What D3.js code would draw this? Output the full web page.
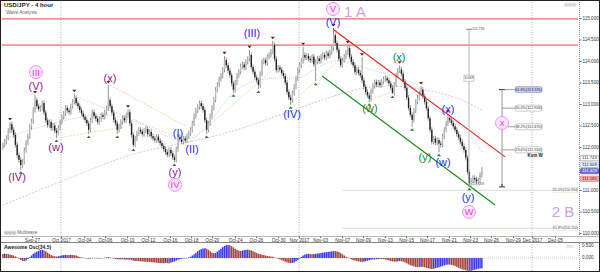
<!DOCTYPE html>
<html><head><meta charset="utf-8">
<script src="https://cdn.jsdelivr.net/npm/d3@7"></script>
<style>body{margin:0;background:#fff}svg{display:block;font-family:"Liberation Sans",Arial,sans-serif}</style>
</head><body><svg id="c" width="600" height="272"></svg>
<script>
// ---------- data (USD/JPY 4h closes) ----------
const closes = [
112.05,112.12,112.21,112.38,112.53,112.40,112.28,112.05,111.81,111.70,
111.58,111.66,111.93,112.10,112.25,112.47,112.60,112.86,113.09,112.95,
112.88,112.91,113.02,112.80,112.62,112.51,112.58,112.44,112.50,112.38,
112.33,112.45,112.58,112.70,112.78,112.91,112.85,112.81,112.95,113.05,
113.14,113.02,112.95,112.86,112.78,112.70,112.63,112.55,112.40,112.62,
112.81,112.72,112.66,112.58,112.65,112.74,112.70,112.81,112.90,113.09,
112.95,112.80,112.63,112.55,112.40,112.48,112.58,112.67,112.62,112.74,
112.81,112.55,112.28,112.05,112.20,112.32,112.40,112.36,112.30,112.38,
112.42,112.30,112.35,112.25,112.20,112.16,112.24,112.15,112.09,112.02,
111.95,111.88,111.82,111.93,111.85,111.76,111.70,111.95,112.23,112.18,
112.12,112.20,112.15,112.25,112.32,112.40,112.55,112.72,112.85,112.93,
113.02,112.95,112.86,112.62,112.40,112.55,112.72,112.91,113.10,113.33,
113.45,113.58,113.66,113.80,114.02,113.90,113.78,113.67,113.48,113.33,
113.50,113.66,113.75,113.88,113.92,113.85,113.98,114.05,114.14,113.86,
113.75,113.62,113.55,113.44,113.70,113.98,114.02,113.95,114.10,114.14,
114.22,114.37,114.05,113.79,113.85,113.80,113.72,113.65,113.50,113.28,
113.15,113.09,113.25,113.40,113.60,113.79,113.90,114.00,114.14,114.08,
114.12,114.05,114.02,114.10,113.92,113.98,114.06,114.00,114.10,114.14,
114.08,114.18,114.12,114.21,114.30,114.60,114.42,114.26,114.05,113.91,
114.02,114.10,114.20,114.30,114.10,113.98,113.90,113.74,113.80,113.72,
113.67,113.55,113.40,113.28,113.20,113.12,113.30,113.42,113.51,113.45,
113.50,113.44,113.52,113.58,113.60,113.55,113.48,113.38,113.26,113.45,
113.67,113.78,113.80,113.70,113.52,113.37,113.15,112.91,112.75,112.63,
112.85,113.05,113.15,113.25,113.33,113.18,113.05,112.90,112.67,112.40,
112.12,112.20,112.10,112.16,112.08,112.05,112.25,112.40,112.55,112.67,
112.62,112.56,112.48,112.40,112.30,112.22,112.12,112.02,111.93,111.75,
111.42,111.16,111.22,111.28,111.25,111.20,111.23,111.35,111.47];
const firstOpen = 112.00;
const highPivotIdx = [4,18,40,59,70,124,138,151,168,185,193,201,222,234,249];
const highPivotVal = [112.58,113.21,113.24,113.44,112.88,114.12,114.26,114.47,114.33,114.77,114.37,114.09,113.90,113.42,112.76];
const lowPivotIdx = [10,30,48,64,73,96,114,129,143,161,175,205,218,229,244,261];
const lowPivotVal = [111.47,112.21,112.30,112.30,112.00,111.65,112.30,113.26,113.35,112.98,113.53,113.05,113.23,112.47,111.88,111.09];

const aoValues = [
0.16,0.18,0.17,0.15,0.14,0.12,0.10,0.06,0.02,-0.03,
-0.08,-0.12,-0.13,-0.10,-0.04,0.03,0.10,0.17,0.22,0.26,
0.29,0.32,0.33,0.31,0.27,0.22,0.17,0.12,0.09,0.07,
0.06,0.07,0.09,0.11,0.12,0.13,0.12,0.12,0.13,0.12,
0.11,0.10,0.07,0.04,0.02,0.01,0.00,-0.02,-0.03,-0.02,
-0.01,0.00,-0.01,-0.02,-0.02,-0.01,0.00,0.01,0.02,0.03,
0.02,0.00,-0.02,-0.04,-0.05,-0.06,-0.05,-0.05,-0.06,-0.07,
-0.06,-0.07,-0.09,-0.11,-0.12,-0.12,-0.13,-0.14,-0.14,-0.15,
-0.15,-0.16,-0.16,-0.17,-0.18,-0.18,-0.19,-0.20,-0.21,-0.21,
-0.22,-0.20,-0.21,-0.22,-0.19,-0.16,-0.14,-0.10,-0.07,-0.05,
-0.03,-0.02,-0.01,0.00,0.02,0.05,0.10,0.15,0.21,0.27,
0.32,0.36,0.39,0.40,0.38,0.33,0.27,0.22,0.20,0.21,
0.26,0.32,0.38,0.44,0.49,0.52,0.53,0.52,0.48,0.43,
0.37,0.33,0.30,0.29,0.30,0.32,0.33,0.34,0.33,0.31,
0.28,0.24,0.20,0.17,0.15,0.14,0.12,0.10,0.08,0.07,
0.06,0.05,0.02,0.00,-0.03,-0.06,-0.09,-0.12,-0.15,-0.18,
-0.20,-0.21,-0.20,-0.18,-0.13,-0.08,-0.02,0.04,0.10,0.14,
0.16,0.17,0.16,0.15,0.16,0.17,0.18,0.19,0.21,0.22,
0.23,0.24,0.25,0.26,0.27,0.28,0.28,0.27,0.24,0.20,
0.15,0.10,0.05,0.02,-0.02,-0.05,-0.08,-0.10,-0.12,-0.14,
-0.15,-0.16,-0.15,-0.13,-0.11,-0.09,-0.07,-0.06,-0.06,-0.05,
-0.05,-0.04,-0.04,-0.05,-0.06,-0.08,-0.10,-0.12,-0.14,-0.15,
-0.15,-0.14,-0.12,-0.13,-0.15,-0.18,-0.22,-0.26,-0.29,-0.32,
-0.34,-0.36,-0.37,-0.37,-0.36,-0.36,-0.38,-0.40,-0.42,-0.44,
-0.45,-0.44,-0.42,-0.40,-0.38,-0.35,-0.33,-0.30,-0.28,-0.27,
-0.27,-0.28,-0.30,-0.33,-0.36,-0.40,-0.43,-0.46,-0.48,-0.50,
-0.52,-0.53,-0.52,-0.50,-0.48,-0.46,-0.44,-0.43,-0.42];

const tickLabels = ["Sep-27","Oct 2017","Oct-04","Oct-06","Oct-10","Oct-12","Oct-16","Oct-18","Oct-20","Oct-24","Oct-26","Oct-30","Nov 2017","Nov-03","Nov-07","Nov-09","Nov-13","Nov-15","Nov-17","Nov-21","Nov-23","Nov-26","Nov-29","Dec 2017","Dec-05"];
const tickIdx = [16.8,33,46,57.6,70,81.7,94,105.8,117.5,130.4,142.1,154.5,166.2,178,190.3,202,214.3,226.1,237.8,250.1,261.9,273.6,285.9,296.6,309.4];
const monthIdx = [33,166.2,296.6];
const priceTicks = [110,110.5,111,112,112.5,113,113.5,114,114.5,115];

const maSlow = [[0,110.65],[20.8,111.00],[44.8,111.40],[72.8,111.88],[106.4,112.12],[132.7,112.40],[170.2,112.98],[202.6,113.44],[222.2,113.42],[244.6,113.28],[257.5,113.09],[268.1,112.86]];
const maFast = [[0,112.16],[9.6,112.33],[20.8,112.47],[41.5,112.70],[59.9,112.79],[71.1,112.63],[82.3,112.47],[97.4,112.09],[107.5,112.23],[114.2,112.47],[121.5,112.91],[128.8,113.26],[138.3,113.56],[156.7,113.63],[166.3,113.56],[175.8,113.86],[188.6,114.09],[199.8,113.86],[212.7,113.72],[222.2,113.63],[230.6,113.37],[237.3,113.02],[244.6,112.81],[254.1,112.56],[261.4,112.28],[268.1,111.88]];
const oliveLines = [[[33.6,112.23],[68.3,112.47]],[[101.9,112.02],[152.3,113.84]],[[160.7,113.0],[187,113.98]],[[204.5,113.07],[222.7,113.37]]];
const orangeLines = [[[59.9,113.44],[103,112.47]],[[41.5,113.16],[97.4,112.23]]];
const resistance = [114.98,114.37];
const redTrend = [[184.7,114.74],[281.0,111.77]];
const greenTrend = [[178.6,113.65],[275.4,110.65]];
const retraceLevels = [110.994,110.110];
const retraceLabels = ["50.0%(110.994)","61.8%(110.110)"];
const retraceStart = 190;
const fibLevels = [113.335,112.903,112.470,111.934];
const fibLabels = ["61.8%(113.335)","50.0%(112.903)","38.2%(112.470)","23.6%(111.934)"];
const fibBottom = 111.072, fibIdx = 279.3;
const measure = {idx:260.8, top:114.738, bottom:111.069, text:"3.669"};
const priceBoxes = [["111.743",111.743,"#fff","#777","#222"],["111.509",111.585,"#dff3f8","#88b","#224"],["111.429",111.44,"#6f6fe0","#44a","#fff"],["111.184",111.26,"#f3b0b0","#c66","#611"]];

// wave labels: [text, idx, price, color]
const waveLabels = [
["(V)",18.5,113.42,"#8b1a8b"],["(w)",29.7,112.00,"#8b1a8b"],["(x)",59.9,113.60,"#8b1a8b"],["(IV)",7.9,111.30,"#8b1a8b"],["(y)",96.3,111.42,"#8b1a8b"],
["(III)",139.4,114.65,"#1f2bff"],["(I)",98,112.33,"#1f2bff"],["(II)",105.8,111.95,"#1f2bff"],["(IV)",161.8,112.77,"#1f2bff"],["(V)",184.7,114.91,"#1f2bff"],["(x)",249,112.88,"#1f2bff"],["(w)",246.3,111.65,"#1f2bff"],["(y)",260.3,110.84,"#1f2bff"],
["(x)",221.7,114.09,"#1a8a1a"],["(w)",205.4,112.91,"#1a8a1a"],["(y)",236.2,111.77,"#1a8a1a"]];
const circleLabels = [["III",18.5,113.74],["IV",96.3,111.12],["V",184.7,115.21],["W",260.8,110.49],["x",279.3,112.56]];
const bigLabels = [["1 A",197,115.14],["2 B",313.4,110.49]];

// ---------- scales ----------
const svg = d3.select("#c");
const x = d3.scaleLinear().domain([0,322.3]).range([2,578]);
const X = i => x(i+0.5);
const y = d3.scaleLinear().domain([110,115]).range([233,18]);
const yAo = d3.scaleLinear().domain([-0.55,0.55]).range([271.5,244.5]);

svg.append("rect").attr("width",600).attr("height",272).attr("fill","#fff");
svg.append("defs").append("clipPath").attr("id","mp").append("rect").attr("x",2).attr("y",2).attr("width",576).attr("height",234);

// month separators
svg.append("g").selectAll("line").data(monthIdx).join("line")
 .attr("x1",d=>x(d)).attr("x2",d=>x(d)).attr("y1",2).attr("y2",271)
 .attr("stroke","#9a9a9a").attr("stroke-width",0.8).attr("stroke-dasharray","1,1.5");

const main = svg.append("g").attr("clip-path","url(#mp)");
const line = d3.line().x(d=>X(d[0])).y(d=>y(d[1])).curve(d3.curveBasis);

main.append("path").attr("d",line(maSlow)).attr("fill","none").attr("stroke","#e2a8e2").attr("stroke-width",0.8).attr("stroke-dasharray","2,1.5");
main.append("path").attr("d",line(maFast)).attr("fill","none").attr("stroke","#a9c8f2").attr("stroke-width",0.8).attr("stroke-dasharray","1,1");
main.selectAll(".ol").data(oliveLines).join("path").attr("d",d=>d3.line().x(p=>X(p[0])).y(p=>y(p[1]))(d))
 .attr("fill","none").attr("stroke","#d8d8a0").attr("stroke-width",0.8).attr("stroke-dasharray","2,1.5");
main.selectAll(".or").data(orangeLines).join("path").attr("d",d=>d3.line().x(p=>X(p[0])).y(p=>y(p[1]))(d))
 .attr("fill","none").attr("stroke","#f6c48e").attr("stroke-width",0.8).attr("stroke-dasharray","2,1.5");

// resistance lines
main.selectAll(".res").data(resistance).join("line").attr("x1",2).attr("x2",578)
 .attr("y1",d=>y(d)).attr("y2",d=>y(d)).attr("stroke","#ee6a6a").attr("stroke-width",1.3);
// retracement lines
main.selectAll(".ret").data(retraceLevels).join("line").attr("x1",X(retraceStart)).attr("x2",578)
 .attr("y1",d=>y(d)).attr("y2",d=>y(d)).attr("stroke","#b9e8b0").attr("stroke-width",0.8);

// candles
const opens = closes.map((c,i)=> i ? closes[i-1] : firstOpen);
const hiMap = new Map(highPivotIdx.map((d,k)=>[d,highPivotVal[k]]));
const loMap = new Map(lowPivotIdx.map((d,k)=>[d,lowPivotVal[k]]));
const candles = closes.map((c,i)=>{const o=opens[i];
 return {i,o,c,h:hiMap.has(i)?hiMap.get(i):Math.max(o,c)+0.06,l:loMap.has(i)?loMap.get(i):Math.min(o,c)-0.06};});
const cg = main.append("g");
cg.selectAll("line").data(candles).join("line").attr("x1",d=>X(d.i)).attr("x2",d=>X(d.i))
 .attr("y1",d=>y(d.h)).attr("y2",d=>y(d.l)).attr("stroke","#7a7a7a").attr("stroke-width",0.8);
cg.selectAll("rect").data(candles).join("rect").attr("x",d=>X(d.i)-0.7).attr("width",1.4)
 .attr("y",d=>y(Math.max(d.o,d.c))).attr("height",d=>Math.max(0.8,Math.abs(y(d.o)-y(d.c))))
 .attr("fill",d=>d.c<d.o?"#222":"#bdbdbd");

// pivot markers
main.selectAll(".hm").data(highPivotIdx).join("path").attr("d",(d,k)=>{const cx=X(d),cy=y(highPivotVal[k])-1.5;return `M${cx-2},${cy-2.5}L${cx+2},${cy-2.5}L${cx},${cy}Z`;}).attr("fill","#7a1212");
main.selectAll(".lm").data(lowPivotIdx).join("path").attr("d",(d,k)=>{const cx=X(d),cy=y(lowPivotVal[k])+1.5;return `M${cx-2},${cy+2.5}L${cx+2},${cy+2.5}L${cx},${cy}Z`;}).attr("fill","#2d7d2d");

// trend lines
const sl = d3.line().x(p=>X(p[0])).y(p=>y(p[1]));
main.append("path").attr("d",sl(redTrend)).attr("stroke","#f02020").attr("stroke-width",1.2).attr("fill","none");
main.append("path").attr("d",sl(greenTrend)).attr("stroke","#1f8a1f").attr("stroke-width",1.2).attr("fill","none");

// measurement tool
const mx = X(measure.idx);
main.append("line").attr("x1",mx).attr("x2",mx).attr("y1",y(measure.top)).attr("y2",y(measure.bottom)).attr("stroke","#b0b0b0").attr("stroke-width",0.9);
main.append("line").attr("x1",mx-3).attr("x2",mx+3).attr("y1",y(measure.top)).attr("y2",y(measure.top)).attr("stroke","#888");
main.append("text").attr("x",mx+3).attr("y",y(measure.top)).attr("font-size",3.5).attr("fill","#555").attr("dominant-baseline","middle").text(measure.top.toFixed(3));
main.append("text").attr("x",mx+3).attr("y",y(measure.bottom)-3).attr("font-size",3.5).attr("fill","#555").attr("dominant-baseline","middle").text(measure.bottom.toFixed(3));
const mmid = y((measure.top+measure.bottom)/2)-30;
main.append("rect").attr("x",mx-5).attr("y",mmid-3).attr("width",10).attr("height",6).attr("fill","#fff").attr("stroke","#999").attr("stroke-width",0.5);
main.append("text").attr("x",mx).attr("y",mmid).attr("font-size",3.5).attr("fill","#444").attr("text-anchor","middle").attr("dominant-baseline","middle").text(measure.text);

// fib tool
const fx = X(fibIdx);
main.append("line").attr("x1",fx).attr("x2",fx).attr("y1",y(fibLevels[0])).attr("y2",y(fibBottom)).attr("stroke","#8a8a8a").attr("stroke-width",0.9);
[fibLevels[0],fibBottom].forEach(v=>main.append("line").attr("x1",fx-3).attr("x2",fx+3).attr("y1",y(v)).attr("y2",y(v)).attr("stroke","#333").attr("stroke-width",1));
main.append("line").attr("x1",fx).attr("x2",fx).attr("y1",y(fibBottom)-3).attr("y2",y(fibBottom)).attr("stroke","#333");
fibLevels.forEach((v,k)=>{
 main.append("line").attr("x1",fx).attr("x2",fx+13).attr("y1",y(v)).attr("y2",y(v)).attr("stroke","#777").attr("stroke-width",0.7);
 main.append("rect").attr("x",fx+13).attr("y",y(v)-3).attr("width",27).attr("height",6).attr("rx",2)
  .attr("fill",k===0?"#c6ccf4":"#fff").attr("stroke",k===0?"#7784d0":"#999").attr("stroke-width",0.5);
 main.append("text").attr("x",fx+26.5).attr("y",y(v)+0.2).attr("font-size",3.8).attr("fill","#333").attr("text-anchor","middle").attr("dominant-baseline","middle").text(fibLabels[k]);
});
main.append("text").attr("x",fx+33).attr("y",y(fibLevels[3])+6).attr("font-size",4.5).attr("font-weight","bold").attr("fill","#222").attr("text-anchor","middle").attr("dominant-baseline","middle").text("Kvm W");

// retrace labels
retraceLevels.forEach((v,k)=>{
 main.append("rect").attr("x",553).attr("y",y(v)-3).attr("width",25).attr("height",5.5).attr("fill","#fff").attr("stroke","#cce6c6").attr("stroke-width",0.5);
 main.append("text").attr("x",565.5).attr("y",y(v)).attr("font-size",3.6).attr("fill","#444").attr("text-anchor","middle").attr("dominant-baseline","middle").text(retraceLabels[k]);
});

// wave labels
main.selectAll(".wl").data(waveLabels).join("text").attr("x",d=>X(d[1])).attr("y",d=>y(d[2]))
 .attr("text-anchor","middle").attr("dominant-baseline","central").attr("font-size",11).attr("fill",d=>d[3]).text(d=>d[0]);
const cl = main.selectAll(".cl").data(circleLabels).join("g").attr("transform",d=>`translate(${X(d[1])},${y(d[2])})`);
cl.append("circle").attr("r",6.5).attr("fill","#fde8fd").attr("stroke","#f77ff7").attr("stroke-width",0.9);
cl.append("text").attr("text-anchor","middle").attr("dominant-baseline","central").attr("font-size",9.5).attr("fill","#ee33ee").text(d=>d[0]);
main.selectAll(".bl").data(bigLabels).join("text").attr("x",d=>X(d[1])).attr("y",d=>y(d[2]))
 .attr("text-anchor","middle").attr("dominant-baseline","central").attr("font-size",15).attr("fill","#c9a3e6").text(d=>d[0]);

// title
svg.append("text").attr("x",4).attr("y",7).attr("font-size",6).attr("font-weight","bold").attr("fill","#222").text("USD/JPY - 4 hour");
svg.append("text").attr("x",6).attr("y",14).attr("font-size",4.8).attr("fill","#666").text("Wave Analysis");
svg.append("text").attr("x",4).attr("y",233.5).attr("font-size",4.5).attr("fill","#666").text("◎◎◎ Multiwave");
svg.append("text").attr("x",564).attr("y",6).attr("font-size",5).attr("fill","#999").text("◎◎◎");

// right price axis
svg.append("line").attr("x1",579.5).attr("x2",579.5).attr("y1",2).attr("y2",236).attr("stroke","#999").attr("stroke-dasharray","1,1");
const ya = svg.append("g").attr("transform","translate(579.5,0)").call(d3.axisRight(y).tickValues(priceTicks).tickFormat(d3.format(".3f")).tickSize(2).tickPadding(1));
ya.select(".domain").remove();
ya.selectAll("text").attr("font-size",4.6).attr("fill","#333").attr("font-family","Liberation Sans, Arial");
ya.selectAll("line").attr("stroke","#666");
priceBoxes.forEach(b=>{
 svg.append("rect").attr("x",580).attr("y",y(b[1])-2.7).attr("width",19).attr("height",5.4).attr("rx",1.5).attr("fill",b[2]).attr("stroke",b[3]).attr("stroke-width",0.5);
 svg.append("text").attr("x",589.5).attr("y",y(b[1])+0.2).attr("font-size",4.2).attr("fill",b[4]).attr("text-anchor","middle").attr("dominant-baseline","middle").text(b[0]);
});

// x axis
svg.append("line").attr("x1",1).attr("x2",599).attr("y1",236.5).attr("y2",236.5).attr("stroke","#888").attr("stroke-width",0.6);
const xa = svg.append("g").attr("transform","translate(0,236.5)").call(d3.axisBottom(x).tickValues(tickIdx).tickFormat((d,k)=>tickLabels[k]).tickSize(1.5).tickPadding(0.5));
xa.select(".domain").remove();
xa.selectAll("text").attr("font-size",4.6).attr("fill","#333").attr("font-family","Liberation Sans, Arial");
xa.selectAll("line").attr("stroke","#666");
svg.append("line").attr("x1",1).attr("x2",599).attr("y1",242.5).attr("y2",242.5).attr("stroke","#666").attr("stroke-width",0.8);

// awesome oscillator
svg.append("line").attr("x1",2).attr("x2",578).attr("y1",yAo(0)).attr("y2",yAo(0)).attr("stroke","#aaa").attr("stroke-width",0.6).attr("stroke-dasharray","1,1");
svg.append("g").selectAll("rect").data(aoValues).join("rect")
 .attr("x",(d,i)=>X(i)-0.75).attr("width",1.5)
 .attr("y",d=>Math.min(yAo(d),yAo(0))).attr("height",d=>Math.max(0.3,Math.abs(yAo(d)-yAo(0))))
 .attr("fill",(d,i)=> i>0 && d>aoValues[i-1] ? "#3b3bf2" : "#a8453c");
svg.append("text").attr("x",4).attr("y",249).attr("font-size",5).attr("font-weight","bold").attr("fill","#222").text("Awesome Osc(34,5)");
svg.append("line").attr("x1",579.5).attr("x2",579.5).attr("y1",243).attr("y2",271).attr("stroke","#999").attr("stroke-dasharray","1,1");
[[0.5,"0.500"],[0,"0.000"]].forEach(t=>svg.append("text").attr("x",582).attr("y",yAo(t[0])).attr("font-size",4.6).attr("fill","#333").attr("dominant-baseline","middle").text(t[1]));
svg.append("text").attr("x",566).attr("y",247.5).attr("font-size",5).attr("fill","#999").text("◇□");

// border
svg.append("rect").attr("x",0.5).attr("y",0.5).attr("width",599).attr("height",271).attr("fill","none").attr("stroke","#222").attr("stroke-width",1);
</script></body></html>
